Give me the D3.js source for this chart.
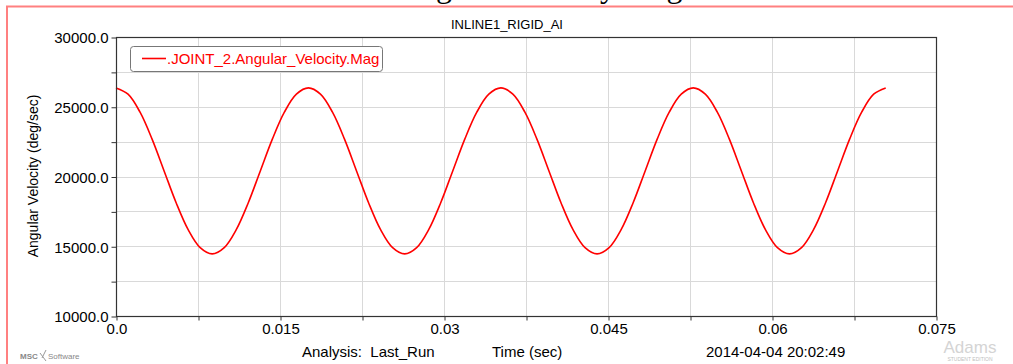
<!DOCTYPE html>
<html>
<head>
<meta charset="utf-8">
<script src="https://cdn.jsdelivr.net/npm/d3@7"></script>
<style>
  html, body { margin: 0; padding: 0; background: #fff; }
  svg { display: block; }
  text { font-family: "Liberation Sans", Arial, sans-serif; white-space: pre; }
</style>
</head>
<body>
<svg id="chart" width="1013" height="364"></svg>
<script>
// Joint 2 angular velocity magnitude over time (sec, deg/sec)
const timeValues = [
  0.0000, 0.0011, 0.0022, 0.0033, 0.0044, 0.0055, 0.0066, 0.0077,
  0.0088, 0.0099, 0.0110, 0.0121, 0.0132, 0.0143, 0.0154, 0.0165,
  0.0176, 0.0187, 0.0198, 0.0209, 0.0220, 0.0231, 0.0242, 0.0253,
  0.0264, 0.0275, 0.0286, 0.0297, 0.0308, 0.0319, 0.0330, 0.0341,
  0.0352, 0.0363, 0.0374, 0.0385, 0.0396, 0.0407, 0.0418, 0.0429,
  0.0440, 0.0451, 0.0462, 0.0473, 0.0484, 0.0495, 0.0506, 0.0517,
  0.0528, 0.0539, 0.0550, 0.0561, 0.0572, 0.0583, 0.0594, 0.0605,
  0.0616, 0.0627, 0.0638, 0.0649, 0.0660, 0.0671, 0.0682, 0.0693,
  0.0704
];
const angularVelocity = [
  26350, 25900, 24610, 22680, 20400, 18120, 16190, 14900,
  14450, 14900, 16190, 18120, 20400, 22680, 24610, 25900,
  26350, 25900, 24610, 22680, 20400, 18120, 16190, 14900,
  14450, 14900, 16190, 18120, 20400, 22680, 24610, 25900,
  26350, 25900, 24610, 22680, 20400, 18120, 16190, 14900,
  14450, 14900, 16190, 18120, 20400, 22680, 24610, 25900,
  26350, 25900, 24610, 22680, 20400, 18120, 16190, 14900,
  14450, 14900, 16190, 18120, 20400, 22680, 24610, 25900,
  26350
];
const xMajorTicks = [0.0, 0.015, 0.03, 0.045, 0.06, 0.075];
const xTickLabels = ["0.0", "0.015", "0.03", "0.045", "0.06", "0.075"];
const xMinorTicks = [0.0075, 0.0225, 0.0375, 0.0525, 0.0675];
const yMajorTicks = [10000, 15000, 20000, 25000, 30000];
const yTickLabels = ["10000.0", "15000.0", "20000.0", "25000.0", "30000.0"];
const yMinorTicks = [12500, 17500, 22500, 27500];

const plotTitle = "INLINE1_RIGID_AI";
const seriesName = ".JOINT_2.Angular_Velocity.Mag";
const yTitle = "Angular Velocity (deg/sec)";
const xTitle = "Time (sec)";
const analysisText = "Analysis:  Last_Run";
const dateText = "2014-04-04 20:02:49";
const captionText = "Angular Velocity Magnitude";

const svg = d3.select("#chart");
const plotLeft = 116, plotRight = 936, plotTop = 37, plotBottom = 316;

const x = d3.scaleLinear().domain([0, 0.075]).range([plotLeft, plotRight]);
const y = d3.scaleLinear().domain([10000, 30000]).range([plotBottom, plotTop]);

// caption line of the surrounding page, running off the top edge
svg.append("text")
  .attr("x", 397).attr("y", -3)
  .attr("font-size", 32)
  .style("font-family", "'Liberation Serif', 'Times New Roman', serif")
  .attr("fill", "#000")
  .text(captionText);

// pink page frame
svg.append("path")
  .attr("d", `M7,364 V6.5 H1013`)
  .attr("fill", "none")
  .attr("stroke", "#ff8080")
  .attr("stroke-width", 2);

// gridlines
const grid = svg.append("g").attr("stroke", "#d9d9d9").attr("stroke-width", 1);
xMajorTicks.concat(xMinorTicks).forEach(t => {
  if (t <= 0 || t >= 0.075) return;
  grid.append("line")
    .attr("x1", Math.round(x(t)) + 0.5).attr("x2", Math.round(x(t)) + 0.5)
    .attr("y1", plotTop).attr("y2", plotBottom);
});
yMajorTicks.concat(yMinorTicks).forEach(v => {
  if (v <= 10000 || v >= 30000) return;
  grid.append("line")
    .attr("y1", Math.round(y(v)) + 0.5).attr("y2", Math.round(y(v)) + 0.5)
    .attr("x1", plotLeft).attr("x2", plotRight);
});

// curve
const line = d3.line()
  .x((d, i) => x(timeValues[i]))
  .y(d => y(d))
  .curve(d3.curveCatmullRom.alpha(0.5));

svg.append("path")
  .datum(angularVelocity)
  .attr("d", line)
  .attr("fill", "none")
  .attr("stroke", "#ff0000")
  .attr("stroke-width", 1.6);

// frame
svg.append("rect")
  .attr("x", plotLeft + 0.5).attr("y", plotTop + 0.5)
  .attr("width", plotRight - plotLeft).attr("height", plotBottom - plotTop)
  .attr("fill", "none").attr("stroke", "#333").attr("stroke-width", 1.2);

// axes
const yAxis = d3.axisLeft(y)
  .tickValues(yMajorTicks.concat(yMinorTicks).sort((a, b) => a - b))
  .tickSize(5)
  .tickFormat(v => {
    const k = yMajorTicks.indexOf(v);
    return k >= 0 ? yTickLabels[k] : "";
  });
const gy = svg.append("g").attr("transform", `translate(${plotLeft + 0.5},0.5)`).call(yAxis);
gy.select(".domain").remove();
gy.selectAll("line").attr("stroke", "#333");
gy.selectAll("text")
  .attr("font-size", 15)
  .style("font-family", "'Liberation Sans', Arial, sans-serif")
  .attr("fill", "#000")
  .attr("x", -8).attr("dy", "0.35em");

const xAxis = d3.axisBottom(x)
  .tickValues(xMajorTicks.concat(xMinorTicks).sort((a, b) => a - b))
  .tickSize(4)
  .tickFormat(v => {
    const k = xMajorTicks.indexOf(v);
    return k >= 0 ? xTickLabels[k] : "";
  });
const gx = svg.append("g").attr("transform", `translate(0.5,${plotBottom + 0.5})`).call(xAxis);
gx.select(".domain").remove();
gx.selectAll("line").attr("stroke", "#333");
gx.selectAll("text")
  .attr("font-size", 15)
  .style("font-family", "'Liberation Sans', Arial, sans-serif")
  .attr("fill", "#000")
  .attr("y", 7).attr("dy", "0.71em");

// title
svg.append("text")
  .attr("x", 507).attr("y", 29)
  .attr("text-anchor", "middle")
  .attr("font-size", 13)
  .attr("fill", "#000")
  .text(plotTitle);

// y title
svg.append("text")
  .attr("transform", `translate(38,176) rotate(-90)`)
  .attr("text-anchor", "middle")
  .attr("font-size", 14)
  .attr("fill", "#000")
  .text(yTitle);

// bottom info line
svg.append("text").attr("x", 302).attr("y", 357).attr("font-size", 15).attr("fill", "#000").text(analysisText);
svg.append("text").attr("x", 492).attr("y", 357).attr("font-size", 15).attr("fill", "#000").text(xTitle);
svg.append("text").attr("x", 706).attr("y", 357).attr("font-size", 15).attr("fill", "#000").text(dateText);

// legend
const lg = svg.append("g");
lg.append("rect")
  .attr("x", 130.5).attr("y", 46.5).attr("width", 252).attr("height", 25).attr("rx", 3)
  .attr("fill", "#fff").attr("stroke", "#777").attr("stroke-width", 1);
lg.append("line")
  .attr("x1", 142).attr("x2", 166).attr("y1", 58.5).attr("y2", 58.5)
  .attr("stroke", "#ff0000").attr("stroke-width", 1.6);
lg.append("text")
  .attr("x", 167).attr("y", 64).attr("font-size", 15).attr("fill", "#ff0000")
  .text(seriesName);

// vendor marks
svg.append("text").attr("x", 20).attr("y", 359).attr("font-size", 8).attr("fill", "#888")
  .attr("font-weight", "bold").text("MSC");
svg.append("text").attr("x", 48).attr("y", 359).attr("font-size", 8).attr("fill", "#888").text("Software");
svg.append("path").attr("d", "M40,353 L46,361 M46,350 L42,358").attr("stroke", "#999").attr("fill", "none");
svg.append("text").attr("x", 970).attr("y", 353).attr("text-anchor", "middle").attr("font-size", 17)
  .attr("fill", "#d4d4d4").text("Adams");
svg.append("text").attr("x", 970).attr("y", 361).attr("text-anchor", "middle").attr("font-size", 5)
  .attr("fill", "#c0c0c0").text("STUDENT EDITION");
</script>
</body>
</html>
